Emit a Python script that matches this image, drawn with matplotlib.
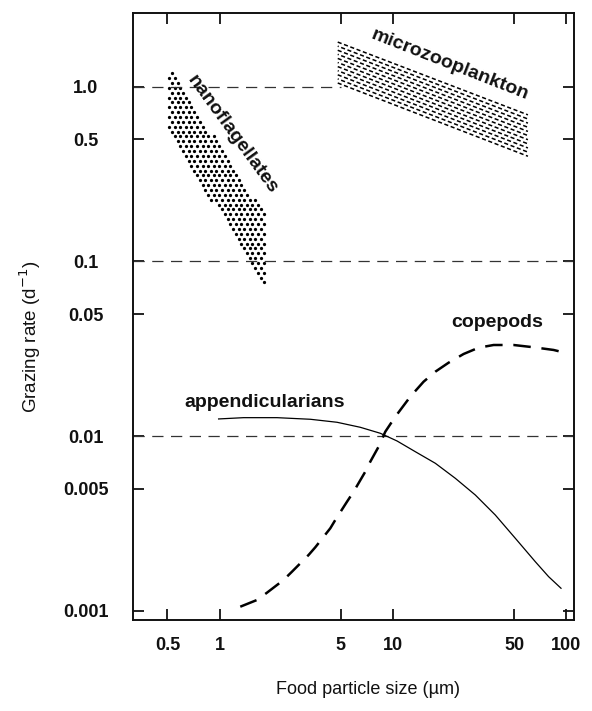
import numpy as np
import matplotlib.pyplot as plt
from matplotlib.path import Path
from matplotlib.ticker import FixedLocator, NullLocator, FixedFormatter

plt.rcParams['font.family'] = ['Liberation Sans', 'DejaVu Sans']

# axis ticks
x_ticks = [0.5, 1, 5, 10, 50, 100]
x_tick_labels = ['0.5', '1', '5', '10', '50', '100']
y_ticks = [0.001, 0.005, 0.01, 0.05, 0.1, 0.5, 1.0]
y_tick_labels = ['0.001', '0.005', '0.01', '0.05', '0.1', '0.5', '1.0']

# copepods (dashed curve)
copepod_size = [1.316, 1.643, 1.877, 2.339, 2.616, 3.261, 3.564, 4.349, 4.648,
                5.429, 5.926, 6.922, 7.397, 8.260, 9.029, 10.31, 12.58, 15.01,
                17.54, 20.92, 25.54, 31.17, 38.04, 49.61, 64.69, 84.38, 97.63]
copepod_rate = [0.001058, 0.001156, 0.001273, 0.001505, 0.001679, 0.002092,
                0.002315, 0.002973, 0.003317, 0.004220, 0.004816, 0.006268,
                0.007150, 0.008712, 0.010617, 0.012934, 0.016839, 0.020510,
                0.023399, 0.026347, 0.029550, 0.032107, 0.033265, 0.033265,
                0.032283, 0.031156, 0.030061]

# appendicularians (solid curve)
append_size = [0.987, 1.375, 2.143, 3.336, 4.754, 6.478, 8.449, 10.55, 13.45,
               17.54, 22.87, 29.83, 38.90, 50.74, 66.17, 78.94, 93.09]
append_rate = [0.012555, 0.012770, 0.012770, 0.012503, 0.012018, 0.011248,
               0.010395, 0.009393, 0.008155, 0.007002, 0.005745, 0.004610,
               0.003541, 0.002606, 0.001914, 0.001572, 0.001349]

# nanoflagellate band outline (size, rate)
nano_size = [0.5, 1.8, 1.8, 0.5]
nano_rate = [1.32, 0.19, 0.074, 0.56]

# microzooplankton band: sizes at left/right edge, rates at top and bottom
micro_size = [4.8, 60]
micro_top = [1.8, 0.69]
micro_bottom = [1.05, 0.40]

# horizontal reference levels and where they stop
ref_rates = [1.0, 0.1, 0.01]
ref_end = [5, 110.6, 110.6]

xlim = (0.3167, 110.6)
ylim = (0.000888, 2.63)

fig = plt.figure(figsize=(5.92, 7.11), dpi=100)
ax = fig.add_axes([133 / 592, 1 - 620 / 711, 441 / 592, 606.7 / 711])
ax.set_xscale('log')
ax.set_yscale('log')
ax.set_xlim(*xlim)
ax.set_ylim(*ylim)

# reference dashed lines
for r, xe in zip(ref_rates, ref_end):
    ax.plot([xlim[0], xe], [r, r], color='#333333', lw=0.9, dashes=(9, 6))

# nanoflagellates: staggered dot screen clipped to the band (log space)
poly = Path(np.column_stack([np.log10(nano_size), np.log10(nano_rate)]))
step = 0.032
gx = np.arange(np.log10(min(nano_size)) + step / 3, np.log10(max(nano_size)), step)
gy = np.arange(np.log10(min(nano_rate)) + step / 3, np.log10(max(nano_rate)), step * 0.87)
gx, gy = np.meshgrid(gx, gy)
gx = gx + (np.arange(gy.shape[0])[:, None] % 2) * step / 2
pts = np.column_stack([gx.ravel(), gy.ravel()])
inside = poly.contains_points(pts)
ax.scatter(10 ** pts[inside, 0], 10 ** pts[inside, 1], s=5.5, color='black',
           linewidths=0)

# microzooplankton: short dashed strokes parallel to the band
mx = np.log10(micro_size)
mt = np.log10(micro_top)
mb = np.log10(micro_bottom)
for i, f in enumerate(np.linspace(0, 1, 11)):
    y0 = mb[0] + f * (mt[0] - mb[0])
    y1 = mb[1] + f * (mt[1] - mb[1])
    ax.plot(10 ** mx, 10 ** np.array([y0, y1]), color='black', lw=1.1,
            linestyle=((i % 2) * 2.0, (2.7, 1.7)), dash_capstyle='butt')

# curves
ax.plot(copepod_size, copepod_rate, color='black', lw=1.8, dashes=(7, 4.3))
ax.plot(append_size, append_rate, color='black', lw=0.9)

# labels on the chart
ax.text(1.18, 0.53, 'nanoflagellates', rotation=-54, rotation_mode='anchor',
        ha='center', va='center', fontsize=14, fontweight='bold', color='#111111')
ax.text(21.4, 1.33, 'microzooplankton', rotation=-21.5, rotation_mode='anchor',
        ha='center', va='center', fontsize=14, fontweight='bold', color='#111111')
ax.text(40, 0.0446, 'copepods', ha='center', va='center', fontsize=14,
        fontweight='bold', color='#111111')
ax.text(1.81, 0.0156, 'appendicularians', ha='center', va='center', fontsize=14,
        fontweight='bold', color='#111111')

# ticks
ax.xaxis.set_major_locator(FixedLocator(x_ticks))
ax.xaxis.set_major_formatter(FixedFormatter(x_tick_labels))
ax.yaxis.set_major_locator(FixedLocator(y_ticks))
ax.yaxis.set_major_formatter(FixedFormatter(y_tick_labels))
ax.xaxis.set_minor_locator(NullLocator())
ax.yaxis.set_minor_locator(NullLocator())
ax.tick_params(which='major', direction='in', length=8, width=1.3,
               top=True, right=True, labelsize=13, colors='#111111')
ax.tick_params(axis='x', pad=12)
ax.tick_params(axis='y', pad=34)
for lab in ax.get_yticklabels():
    lab.set_ha('center')
    lab.set_fontweight('bold')
for lab in ax.get_xticklabels():
    lab.set_fontweight('bold')
for sp in ax.spines.values():
    sp.set_linewidth(1.4)
    sp.set_color('#111111')

fig.text(368 / 592, 1 - 690 / 711, 'Food particle size (\u00b5m)', ha='center',
         va='center', fontsize=13, color='#111111')
fig.text(30 / 592, 1 - 337 / 711, 'Grazing rate (d$^{-1}$)', ha='center',
         va='center', rotation=90, fontsize=13.5, color='#111111')

fig.savefig('out.png', dpi=100)
